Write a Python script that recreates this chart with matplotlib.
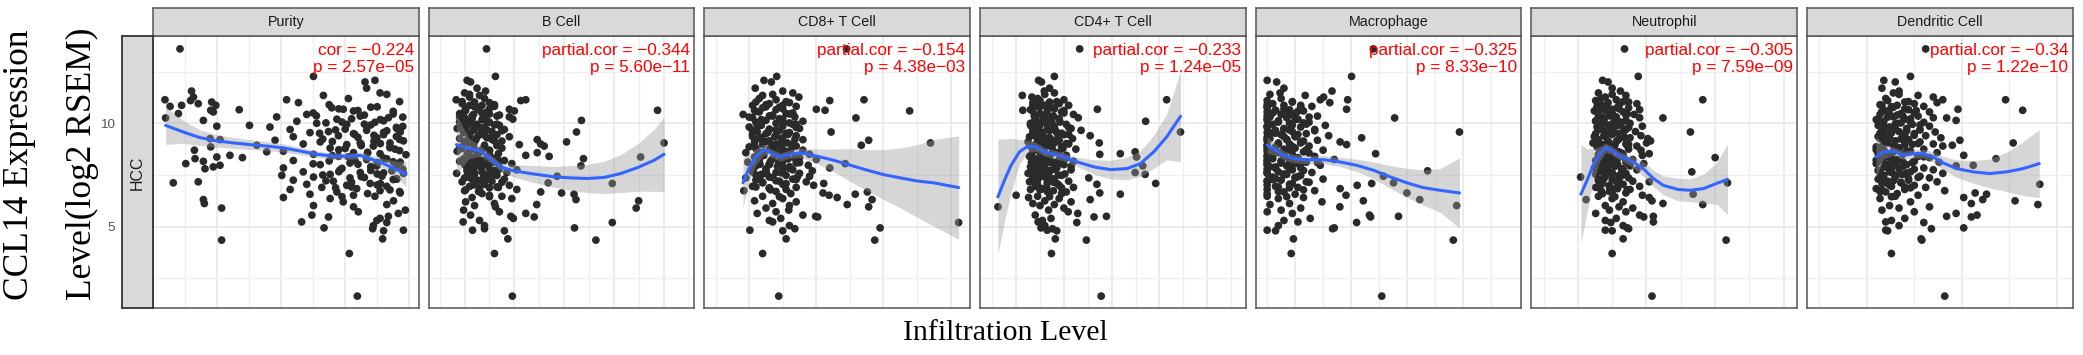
import matplotlib
matplotlib.use("Agg")
import matplotlib.pyplot as plt
import numpy as np

# ---------------- data ----------------
CELL_TYPES = ["Purity", "B Cell", "CD8+ T Cell", "CD4+ T Cell",
              "Macrophage", "Neutrophil", "Dendritic Cell"]
COR_LABELS = ["cor = \u22120.224", "partial.cor = \u22120.344", "partial.cor = \u22120.154",
              "partial.cor = \u22120.233", "partial.cor = \u22120.325", "partial.cor = \u22120.305",
              "partial.cor = \u22120.34"]
P_LABELS = ["p = 2.57e\u221205", "p = 5.60e\u221211", "p = 4.38e\u221203", "p = 1.24e\u221205",
            "p = 8.33e\u221210", "p = 7.59e\u221209", "p = 1.22e\u221210"]
CANCER = "HCC"
Y_TICKS = [5, 10]

# CCL14 expression (shared by all panels, one value per sample)
EXPRESSION = [
    13.6, 12.27, 12.08, 12.0,
    11.7, 11.56, 11.47, 11.35, 11.27, 11.14, 11.14, 11.1, 11.03, 11.0,
    10.95, 10.87, 10.87, 10.82, 10.75, 10.68, 10.66, 10.63, 10.6, 10.55,
    10.47, 10.43, 10.35, 10.31, 10.27, 10.26, 10.2, 10.14, 10.1, 10.05,
    10.0, 9.95, 9.9, 9.86, 9.82,
    9.75, 9.7, 9.66, 9.6, 9.58, 9.55, 9.5, 9.45, 9.4, 9.35,
    9.3, 9.26, 9.21, 9.18, 9.15, 9.1, 9.05, 9.05, 9.0, 8.97, 8.94, 8.9,
    8.86, 8.8, 8.75, 8.7, 8.65, 8.62, 8.58, 8.53, 8.5, 8.45,
    8.4, 8.37, 8.34, 8.29, 8.25, 8.2, 8.16, 8.12, 8.08, 8.05, 8.0, 7.97, 7.94,
    7.89, 7.84, 7.8, 7.75, 7.7, 7.65, 7.62, 7.58, 7.53, 7.48,
    7.44, 7.4, 7.36, 7.3, 7.25, 7.2, 7.17, 7.12, 7.09, 7.05, 7.0,
    6.95, 6.9, 6.84, 6.8, 6.74, 6.68, 6.63, 6.57, 6.52, 6.47,
    6.41, 6.36, 6.31, 6.25, 6.2, 6.12, 6.07, 6.02,
    5.96, 5.9, 5.8, 5.72, 5.64, 5.56, 5.5, 5.47, 5.4, 5.3, 5.23, 5.2, 5.05,
    4.94, 4.9, 4.83, 4.8, 4.41, 4.35, 3.7, 1.64,
    10.8, 10.7, 10.58, 10.5, 10.4, 10.3, 10.22, 10.12, 10.02, 9.92,
    9.8, 9.72, 9.64, 9.52, 9.42, 9.32, 9.22, 9.12, 9.02, 8.92,
    8.82, 8.72, 8.6, 8.48, 8.38, 8.28, 8.18, 8.1, 8.02, 7.92,
    7.82, 7.72, 7.6, 7.5, 7.38, 7.28, 7.15, 7.02, 6.88, 6.7,
    11.4, 11.2, 11.05, 10.9, 10.78, 10.62, 10.45, 10.36, 10.18, 10.06,
    9.96, 9.85, 9.68, 9.56, 9.46, 9.36, 9.24, 9.14, 8.98, 8.88,
    8.78, 8.68, 8.56, 8.44, 8.32, 8.22, 8.14, 8.04, 7.9, 7.78,
    7.66, 7.55, 7.42, 7.32, 7.22, 7.08, 6.92, 6.78, 6.6, 6.45,
]

PURITY = [
    0.284, 0.701, 0.893, 0.862,
    0.867, 0.320, 0.909, 0.732, 0.326, 0.237, 0.617, 0.317, 0.383, 0.654,
    0.341, 0.396, 0.289, 0.253, 0.758, 0.794, 0.469, 0.380, 0.826, 0.388,
    0.279, 0.680, 0.847, 0.586, 0.935, 0.239, 0.774, 0.357, 0.649, 0.893,
    0.711, 0.805, 0.501, 0.399, 0.565,
    0.961, 0.628, 0.867, 0.748, 0.972, 0.690, 0.826, 0.920, 0.779, 0.638,
    0.899, 0.378, 0.409, 0.581, 0.982, 0.722, 0.847, 0.940, 0.669, 0.805, 0.524, 0.888,
    0.380, 0.753, 0.956, 0.329, 0.607, 0.555, 0.826, 0.909, 0.701, 0.440,
    0.779, 0.399, 0.479, 0.331, 0.867, 0.638, 0.357, 0.972, 0.815, 0.302, 0.722, 0.409, 0.899,
    0.388, 0.607, 0.362, 0.784, 0.946, 0.669, 0.847, 0.982, 0.753, 0.602,
    0.915, 0.701, 0.815, 0.961, 0.638, 0.763, 0.341, 0.263, 0.878, 0.680, 0.805,
    0.930, 0.727, 0.836, 0.628, 0.909, 0.774, 0.972, 0.690, 0.826, 0.893,
    0.607, 0.753, 0.357, 0.951, 0.794, 0.360, 0.930, 0.701,
    0.826, 0.414, 0.988, 0.841, 0.966, 0.696, 0.935, 0.748, 0.909, 0.899, 0.664, 0.930, 0.888,
    0.734, 0.886, 0.982, 0.920, 0.917, 0.414, 0.813, 0.838,
    0.90, 0.78, 0.95, 0.70, 0.86, 0.98, 0.82, 0.92, 0.74, 0.88,
    0.96, 0.80, 0.93, 0.72, 0.89, 0.84, 0.97, 0.76, 0.91, 0.85,
    0.94, 0.78, 0.87, 0.99, 0.81, 0.93, 0.75, 0.90, 0.84, 0.96,
    0.79, 0.88, 0.92, 0.73, 0.86, 0.95, 0.82, 0.90, 0.77, 0.97,
    0.93, 0.81, 0.97, 0.75, 0.88, 0.84, 0.95, 0.71, 0.91, 0.79,
    0.86, 0.98, 0.77, 0.92, 0.83, 0.96, 0.73, 0.89, 0.85, 0.94,
    0.80, 0.97, 0.87, 0.76, 0.92, 0.83, 0.95, 0.70, 0.88, 0.98,
    0.78, 0.90, 0.85, 0.96, 0.74, 0.91, 0.82, 0.94, 0.87, 0.79,
]

B_CELL = [
    0.094, 0.112, 0.055, 0.062,
    0.075, 0.092, 0.05, 0.08, 0.06, 0.033, 0.173, 0.163, 0.07, 0.10,
    0.045, 0.085, 0.06, 0.11, 0.052, 0.14, 0.078, 0.438, 0.15, 0.095,
    0.04, 0.068, 0.115, 0.14, 0.05, 0.088, 0.147, 0.285, 0.062, 0.10,
    0.042, 0.075, 0.12, 0.055, 0.09,
    0.035, 0.13, 0.068, 0.105, 0.275, 0.048, 0.085, 0.115, 0.06, 0.14,
    0.095, 0.04, 0.196, 0.072, 0.11, 0.255, 0.451, 0.058, 0.203, 0.16, 0.09, 0.21,
    0.045, 0.125, 0.07, 0.10, 0.035, 0.082, 0.196, 0.118, 0.055, 0.173,
    0.22, 0.404, 0.095, 0.289, 0.062, 0.13, 0.04, 0.108, 0.075, 0.145, 0.05, 0.088, 0.284,
    0.12, 0.065, 0.10, 0.155, 0.055, 0.085, 0.135, 0.034, 0.07, 0.115,
    0.236, 0.09, 0.05, 0.13, 0.075, 0.105, 0.045, 0.218, 0.347, 0.09, 0.14,
    0.06, 0.118, 0.08, 0.155, 0.05, 0.203, 0.245, 0.27, 0.10, 0.125,
    0.065, 0.145, 0.274, 0.40, 0.052, 0.11, 0.195, 0.07,
    0.112, 0.395, 0.048, 0.12, 0.173, 0.062, 0.143, 0.19, 0.148, 0.08, 0.047, 0.347, 0.09,
    0.271, 0.09, 0.066, 0.13, 0.137, 0.314, 0.11, 0.146,
    0.07, 0.10, 0.05, 0.085, 0.12, 0.04, 0.065, 0.095, 0.055, 0.11,
    0.08, 0.045, 0.125, 0.06, 0.09, 0.075, 0.105, 0.05, 0.068, 0.115,
    0.04, 0.085, 0.058, 0.1, 0.072, 0.048, 0.12, 0.062, 0.092, 0.08,
    0.055, 0.11, 0.07, 0.098, 0.06, 0.085, 0.125, 0.068, 0.1, 0.078,
    0.06, 0.09, 0.045, 0.11, 0.075, 0.052, 0.1, 0.065, 0.085, 0.04,
    0.115, 0.07, 0.095, 0.05, 0.08, 0.105, 0.058, 0.125, 0.068, 0.09,
    0.044, 0.1, 0.078, 0.06, 0.112, 0.083, 0.05, 0.098, 0.07, 0.12,
    0.056, 0.088, 0.105, 0.064, 0.092, 0.075, 0.115, 0.052, 0.085, 0.1,
]

CD8_T = [
    0.195, 0.091, 0.072, 0.083,
    0.059, 0.1, 0.115, 0.07, 0.124, 0.221, 0.09, 0.17, 0.06, 0.11,
    0.08, 0.1, 0.055, 0.12, 0.07, 0.15, 0.09, 0.163, 0.289, 0.065,
    0.105, 0.041, 0.085, 0.118, 0.055, 0.209, 0.1, 0.075, 0.13, 0.06,
    0.09, 0.115, 0.068, 0.1, 0.05,
    0.125, 0.08, 0.095, 0.062, 0.172, 0.11, 0.075, 0.055, 0.12, 0.088,
    0.1, 0.065, 0.13, 0.228, 0.08, 0.058, 0.32, 0.107, 0.09, 0.07, 0.217, 0.12,
    0.05, 0.098, 0.08, 0.13, 0.063, 0.11, 0.045, 0.09, 0.14, 0.072,
    0.105, 0.058, 0.125, 0.085, 0.15, 0.065, 0.1, 0.048, 0.12, 0.193, 0.08, 0.138, 0.06,
    0.1, 0.17, 0.075, 0.115, 0.144, 0.055, 0.09, 0.125, 0.068, 0.105,
    0.14, 0.08, 0.045, 0.115, 0.06, 0.095, 0.135, 0.07, 0.161, 0.1, 0.146,
    0.055, 0.12, 0.08, 0.105, 0.042, 0.226, 0.16, 0.208, 0.169, 0.07,
    0.181, 0.1, 0.233, 0.058, 0.12, 0.085, 0.196, 0.11,
    0.228, 0.075, 0.109, 0.09, 0.062, 0.13, 0.149, 0.152, 0.097, 0.08, 0.085, 0.362, 0.11,
    0.245, 0.118, 0.051, 0.1, 0.105, 0.237, 0.07, 0.094,
    0.075, 0.1, 0.06, 0.115, 0.085, 0.05, 0.095, 0.07, 0.11, 0.065,
    0.12, 0.08, 0.055, 0.105, 0.09, 0.068, 0.118, 0.078, 0.1, 0.058,
    0.088, 0.112, 0.072, 0.095, 0.062, 0.108, 0.082, 0.125, 0.066, 0.092,
    0.11, 0.075, 0.098, 0.06, 0.085, 0.12, 0.07, 0.102, 0.08, 0.09,
    0.085, 0.065, 0.105, 0.075, 0.095, 0.058, 0.11, 0.08, 0.068, 0.1,
    0.12, 0.062, 0.09, 0.078, 0.108, 0.055, 0.098, 0.072, 0.115, 0.085,
    0.06, 0.102, 0.088, 0.07, 0.118, 0.064, 0.094, 0.08, 0.11, 0.056,
    0.1, 0.076, 0.122, 0.066, 0.09, 0.105, 0.06, 0.082, 0.112, 0.095,
]

CD4_T = [
    0.183, 0.13, 0.097, 0.103,
    0.12, 0.109, 0.13, 0.063, 0.083, 0.365, 0.15, 0.1, 0.12, 0.085,
    0.14, 0.11, 0.16, 0.095, 0.13, 0.22, 0.08, 0.064, 0.115, 0.145,
    0.1, 0.17, 0.088, 0.125, 0.18, 0.108, 0.14, 0.09, 0.321, 0.12,
    0.08, 0.155, 0.1, 0.13, 0.09,
    0.165, 0.115, 0.186, 0.085, 0.394, 0.135, 0.1, 0.15, 0.205, 0.078,
    0.12, 0.168, 0.095, 0.14, 0.11, 0.075, 0.224, 0.13, 0.16, 0.09, 0.118, 0.08,
    0.145, 0.105, 0.175, 0.085, 0.128, 0.299, 0.1, 0.268, 0.225, 0.155,
    0.078, 0.302, 0.12, 0.09, 0.14, 0.108, 0.17, 0.082, 0.125, 0.095, 0.15, 0.11, 0.315,
    0.08, 0.135, 0.1, 0.165, 0.088, 0.12, 0.299, 0.075, 0.32, 0.145,
    0.105, 0.085, 0.202, 0.13, 0.095, 0.16, 0.078, 0.115, 0.342, 0.219, 0.14,
    0.09, 0.17, 0.105, 0.08, 0.128, 0.155, 0.225, 0.268, 0.05, 0.095,
    0.076, 0.14, 0.205, 0.11, 0.165, 0.085, 0.13, 0.1,
    0.012, 0.15, 0.118, 0.159, 0.179, 0.09, 0.239, 0.213, 0.123, 0.105, 0.096, 0.177, 0.11,
    0.102, 0.126, 0.115, 0.135, 0.132, 0.197, 0.124, 0.228,
    0.1, 0.13, 0.085, 0.15, 0.115, 0.09, 0.14, 0.105, 0.125, 0.08,
    0.16, 0.095, 0.12, 0.145, 0.088, 0.11, 0.135, 0.1, 0.155, 0.09,
    0.125, 0.108, 0.14, 0.082, 0.118, 0.15, 0.095, 0.13, 0.105, 0.165,
    0.088, 0.12, 0.1, 0.138, 0.112, 0.085, 0.128, 0.095, 0.145, 0.115,
    0.11, 0.095, 0.135, 0.085, 0.12, 0.15, 0.1, 0.128, 0.09, 0.142,
    0.115, 0.082, 0.132, 0.105, 0.16, 0.092, 0.122, 0.138, 0.098, 0.112,
    0.148, 0.086, 0.125, 0.104, 0.155, 0.094, 0.118, 0.14, 0.088, 0.13,
    0.108, 0.152, 0.096, 0.124, 0.084, 0.136, 0.114, 0.1, 0.145, 0.12,
]

MACROPHAGE = [
    0.19, 0.151, 0.0, 0.017,
    0.03, 0.116, 0.023, 0.068, 0.101, 0.095, 0.144, 0.0, 0.045, 0.112,
    0.01, 0.06, 0.03, 0.08, 0.0, 0.142, 0.04, 0.015, 0.065, 0.0,
    0.05, 0.025, 0.09, 0.005, 0.035, 0.228, 0.055, 0.0, 0.02, 0.075,
    0.04, 0.01, 0.104, 0.0, 0.06,
    0.03, 0.085, 0.015, 0.045, 0.344, 0.0, 0.07, 0.025, 0.11, 0.05,
    0.169, 0.005, 0.035, 0.09, 0.0, 0.1305, 0.02, 0.06, 0.04, 0.142, 0.0, 0.075,
    0.015, 0.05, 0.03, 0.1, 0.0, 0.065, 0.02, 0.194, 0.045, 0.0,
    0.085, 0.03, 0.055, 0.01, 0.12, 0.04, 0.0, 0.07, 0.025, 0.05, 0.0, 0.095, 0.035,
    0.015, 0.06, 0.0, 0.045, 0.287, 0.02, 0.08, 0.0, 0.035, 0.06,
    0.208, 0.01, 0.05, 0.1, 0.025, 0.0, 0.07, 0.226, 0.187, 0.04, 0.161,
    0.015, 0.055, 0.1305, 0.0, 0.085, 0.03, 0.25, 0.05, 0.141, 0.0,
    0.065, 0.02, 0.273, 0.172, 0.098, 0.04, 0.005, 0.339,
    0.13, 0.06, 0.025, 0.0, 0.045, 0.183, 0.235, 0.185, 0.077, 0.03, 0.055, 0.16, 0.02,
    0.12, 0.117, 0.0, 0.015, 0.047, 0.333, 0.043, 0.205,
    0.0, 0.03, 0.055, 0.01, 0.04, 0.075, 0.0, 0.02, 0.065, 0.045,
    0.0, 0.03, 0.085, 0.015, 0.05, 0.0, 0.035, 0.06, 0.02, 0.0,
    0.045, 0.07, 0.01, 0.03, 0.0, 0.055, 0.025, 0.09, 0.0, 0.04,
    0.015, 0.065, 0.0, 0.03, 0.05, 0.01, 0.075, 0.0, 0.04, 0.02,
    0.005, 0.025, 0.045, 0.0, 0.06, 0.015, 0.035, 0.0, 0.05, 0.02,
    0.07, 0.0, 0.04, 0.01, 0.055, 0.03, 0.0, 0.065, 0.02, 0.045,
    0.0, 0.035, 0.075, 0.01, 0.05, 0.0, 0.025, 0.06, 0.005, 0.04,
    0.0, 0.03, 0.055, 0.015, 0.0, 0.045, 0.02, 0.065, 0.0, 0.035,
]

NEUTROPHIL = [
    0.109, 0.119, 0.093, 0.097,
    0.1, 0.106, 0.09, 0.11, 0.095, 0.166, 0.103, 0.088, 0.112, 0.097,
    0.118, 0.092, 0.105, 0.089, 0.112, 0.1, 0.12, 0.095, 0.087, 0.108,
    0.098, 0.116, 0.09, 0.103, 0.12, 0.137, 0.094, 0.11, 0.088, 0.101,
    0.113, 0.092, 0.105, 0.122, 0.089,
    0.098, 0.11, 0.094, 0.117, 0.157, 0.102, 0.088, 0.108, 0.121, 0.095,
    0.113, 0.126, 0.09, 0.104, 0.128, 0.097, 0.086, 0.125, 0.11, 0.093, 0.102, 0.118,
    0.089, 0.099, 0.112, 0.121, 0.092, 0.105, 0.097, 0.127, 0.09, 0.122,
    0.108, 0.095, 0.175, 0.101, 0.115, 0.088, 0.098, 0.11, 0.093, 0.123, 0.104, 0.09, 0.113,
    0.097, 0.087, 0.107, 0.118, 0.094, 0.158, 0.1, 0.11, 0.088, 0.105,
    0.095, 0.077, 0.112, 0.09, 0.102, 0.115, 0.127, 0.184, 0.093, 0.108, 0.098,
    0.12, 0.088, 0.104, 0.113, 0.092, 0.1, 0.11, 0.159, 0.122, 0.09,
    0.127, 0.1, 0.081, 0.129, 0.108, 0.137, 0.166, 0.095,
    0.105, 0.115, 0.098, 0.11, 0.088, 0.12, 0.13, 0.123, 0.103, 0.095, 0.13, 0.099, 0.108,
    0.111, 0.112, 0.095, 0.1, 0.108, 0.183, 0.1, 0.129,
    0.095, 0.105, 0.09, 0.1, 0.11, 0.093, 0.102, 0.088, 0.107, 0.097,
    0.112, 0.091, 0.1, 0.106, 0.094, 0.109, 0.089, 0.103, 0.098, 0.111,
    0.092, 0.101, 0.096, 0.108, 0.09, 0.104, 0.099, 0.113, 0.093, 0.102,
    0.088, 0.107, 0.097, 0.11, 0.094, 0.1, 0.105, 0.091, 0.103, 0.098,
    0.1, 0.092, 0.108, 0.096, 0.104, 0.089, 0.111, 0.098, 0.094, 0.106,
    0.09, 0.102, 0.109, 0.095, 0.1, 0.087, 0.105, 0.097, 0.112, 0.093,
    0.101, 0.091, 0.107, 0.099, 0.095, 0.11, 0.089, 0.103, 0.096, 0.108,
    0.092, 0.1, 0.106, 0.094, 0.09, 0.104, 0.098, 0.111, 0.093, 0.102,
]

DENDRITIC = [
    0.56, 0.48, 0.34, 0.40,
    0.33, 0.42, 0.39, 0.52, 0.6, 0.98, 0.65, 0.36, 0.45, 0.62,
    0.5, 0.33, 0.41, 0.55, 0.38, 0.73, 0.47, 1.07, 0.35, 0.58,
    0.43, 0.32, 0.52, 0.39, 0.6, 0.67, 0.45, 0.72, 0.34, 0.55,
    0.41, 0.49, 0.31, 0.58, 0.37,
    0.46, 0.53, 0.33, 0.42, 0.61, 0.38, 0.5, 0.35, 0.56, 0.44,
    0.64, 0.32, 0.47, 0.74, 0.4, 0.53, 1.02, 0.36, 0.6, 0.45, 0.7, 0.65,
    0.3, 0.42, 0.55, 0.34, 0.48, 0.39, 0.62, 0.31, 0.44, 0.76,
    0.52, 0.36, 0.58, 0.93, 0.41, 0.33, 0.5, 0.63, 0.38, 0.3, 0.46, 0.81, 0.72,
    0.35, 0.55, 0.42, 0.6, 0.32, 0.48, 0.38, 0.65, 0.44, 0.34,
    0.53, 0.4, 0.58, 0.31, 0.47, 0.36, 0.62, 0.43, 0.33, 1.16, 0.5,
    0.38, 0.56, 0.3, 0.45, 0.66, 0.35, 0.82, 0.88, 0.52, 0.4,
    0.76, 0.32, 0.86, 1.03, 0.48, 0.8, 1.15, 0.37,
    0.58, 0.42, 0.33, 0.5, 0.72, 0.83, 0.67, 0.8, 0.45, 0.38, 0.35, 0.55, 0.42,
    0.76, 0.59, 0.35, 0.36, 0.536, 0.54, 0.38, 0.66,
    0.38, 0.45, 0.33, 0.5, 0.41, 0.36, 0.48, 0.31, 0.43, 0.53,
    0.35, 0.4, 0.46, 0.32, 0.5, 0.37, 0.44, 0.34, 0.52, 0.39,
    0.42, 0.3, 0.47, 0.36, 0.55, 0.33, 0.41, 0.49, 0.35, 0.44,
    0.38, 0.31, 0.46, 0.4, 0.52, 0.34, 0.43, 0.37, 0.48, 0.32,
    0.42, 0.35, 0.47, 0.32, 0.39, 0.51, 0.37, 0.44, 0.3, 0.48,
    0.4, 0.34, 0.53, 0.38, 0.45, 0.31, 0.43, 0.36, 0.49, 0.33,
    0.41, 0.46, 0.35, 0.52, 0.38, 0.3, 0.44, 0.4, 0.34, 0.5,
    0.37, 0.43, 0.32, 0.47, 0.39, 0.36, 0.45, 0.33, 0.41, 0.38,
]

# loess fits (x, fitted value, half-width of the confidence band)
PURITY_FIT_X = [0.239, 0.294, 0.346, 0.398, 0.451, 0.503, 0.555, 0.607, 0.659, 0.711, 0.763, 0.815, 0.847, 0.878, 0.920, 0.961, 0.990]
PURITY_FIT_Y = [9.90, 9.58, 9.31, 9.15, 9.05, 8.97, 8.90, 8.81, 8.66, 8.50, 8.41, 8.41, 8.45, 8.29, 8.05, 7.76, 7.54]
PURITY_FIT_SE = [0.92, 0.55, 0.38, 0.30, 0.26, 0.24, 0.22, 0.20, 0.18, 0.16, 0.15, 0.15, 0.16, 0.18, 0.24, 0.40, 0.60]

B_CELL_FIT_X = [0.0335, 0.0583, 0.0819, 0.102, 0.122, 0.149, 0.183, 0.23, 0.263, 0.297, 0.330, 0.364, 0.398, 0.431, 0.451]
B_CELL_FIT_Y = [8.97, 8.78, 8.66, 8.29, 7.89, 7.70, 7.57, 7.41, 7.36, 7.33, 7.38, 7.57, 7.86, 8.21, 8.50]
B_CELL_FIT_SE = [1.45, 0.5, 0.25, 0.2, 0.2, 0.3, 0.4, 0.5, 0.6, 0.68, 0.78, 0.92, 1.15, 1.5, 1.8]

CD8_FIT_X = [0.0407, 0.0496, 0.0595, 0.0719, 0.0843, 0.0967, 0.109, 0.126, 0.151, 0.176, 0.201, 0.226, 0.250, 0.275, 0.300, 0.325, 0.362]
CD8_FIT_Y = [7.12, 7.81, 8.37, 8.73, 8.53, 8.37, 8.50, 8.58, 8.41, 8.21, 7.97, 7.73, 7.52, 7.36, 7.21, 7.12, 6.89]
CD8_FIT_SE = [1.2, 0.7, 0.4, 0.25, 0.2, 0.2, 0.2, 0.22, 0.35, 0.55, 0.8, 1.0, 1.2, 1.45, 1.75, 2.1, 2.5]

CD4_FIT_X = [0.0118, 0.0257, 0.0395, 0.0569, 0.0742, 0.0915, 0.109, 0.130, 0.150, 0.178, 0.213, 0.247, 0.282, 0.310, 0.338, 0.365, 0.394]
CD4_FIT_Y = [6.44, 7.25, 7.97, 8.62, 8.89, 8.86, 8.62, 8.50, 8.37, 8.13, 7.89, 7.76, 7.81, 8.05, 8.62, 9.34, 10.34]
CD4_FIT_SE = [2.8, 2.0, 1.3, 0.6, 0.3, 0.22, 0.2, 0.2, 0.2, 0.22, 0.35, 0.45, 0.55, 0.62, 0.8, 1.1, 2.2]

MACRO_FIT_X = [0.0, 0.0115, 0.0293, 0.0472, 0.071, 0.101, 0.130, 0.160, 0.190, 0.220, 0.250, 0.279, 0.309, 0.344]
MACRO_FIT_Y = [8.94, 8.78, 8.45, 8.29, 8.24, 8.24, 8.13, 7.97, 7.73, 7.41, 7.12, 6.89, 6.76, 6.63]
MACRO_FIT_SE = [0.4, 0.3, 0.22, 0.2, 0.2, 0.2, 0.22, 0.3, 0.4, 0.55, 0.7, 0.85, 1.05, 1.7]

NEUTRO_FIT_X = [0.0772, 0.0813, 0.0862, 0.091, 0.0952, 0.0995, 0.1056, 0.1129, 0.1178, 0.1239, 0.130, 0.1372, 0.148, 0.1567, 0.1664, 0.176, 0.184]
NEUTRO_FIT_Y = [6.57, 7.17, 7.97, 8.53, 8.81, 8.70, 8.41, 8.21, 8.02, 7.73, 7.33, 7.0, 6.80, 6.76, 6.84, 7.09, 7.29]
NEUTRO_FIT_SE = [2.4, 1.6, 0.8, 0.35, 0.22, 0.2, 0.2, 0.25, 0.3, 0.35, 0.4, 0.45, 0.55, 0.55, 0.7, 1.0, 1.7]

DC_FIT_X = [0.299, 0.337, 0.390, 0.442, 0.495, 0.547, 0.600, 0.652, 0.722, 0.810, 0.897, 0.985, 1.073, 1.157]
DC_FIT_Y = [8.37, 8.62, 8.66, 8.45, 8.53, 8.53, 8.37, 8.08, 7.81, 7.65, 7.57, 7.65, 7.81, 8.05]
DC_FIT_SE = [1.0, 0.35, 0.2, 0.2, 0.2, 0.2, 0.25, 0.32, 0.42, 0.55, 0.7, 0.95, 1.3, 1.65]

# ---------------- assemble ----------------
SERIES = [PURITY, B_CELL, CD8_T, CD4_T, MACROPHAGE, NEUTROPHIL, DENDRITIC]
FITS = [(PURITY_FIT_X, PURITY_FIT_Y, PURITY_FIT_SE), (B_CELL_FIT_X, B_CELL_FIT_Y, B_CELL_FIT_SE),
        (CD8_FIT_X, CD8_FIT_Y, CD8_FIT_SE), (CD4_FIT_X, CD4_FIT_Y, CD4_FIT_SE),
        (MACRO_FIT_X, MACRO_FIT_Y, MACRO_FIT_SE), (NEUTRO_FIT_X, NEUTRO_FIT_Y, NEUTRO_FIT_SE),
        (DC_FIT_X, DC_FIT_Y, DC_FIT_SE)]
for name, s in zip(CELL_TYPES, SERIES):
    if len(s) != len(EXPRESSION):
        raise ValueError(f"{name}: {len(s)} vs {len(EXPRESSION)}")

# axis layout (x ranges and grid positions per panel)
XLIMS = [(0.199, 1.0294), (-0.0226, 0.5119), (-0.017, 0.3789), (-0.0258, 0.5304),
         (-0.0207, 0.4548), (0.0411, 0.2347), (-0.064, 1.3335)]
XGRIDS = [np.arange(0.3, 1.001, 0.1), np.arange(0.0, 0.501, 0.05), np.arange(0.0, 0.351, 0.05),
          np.arange(0.0, 0.501, 0.05), np.arange(0.0, 0.401, 0.05), np.arange(0.05, 0.2251, 0.025),
          np.arange(0.0, 1.251, 0.25)]
YLIM = (1.05, 14.21)

W, H, DPI = 2083, 355, 100
fig = plt.figure(figsize=(W / DPI, H / DPI), dpi=DPI, facecolor="white")

SANS = ["Liberation Sans", "DejaVu Sans"]
SERIF = ["Liberation Serif", "DejaVu Serif"]

panel_bottom = 308.3
panel_top = 36.3
strip_top = 8.3
pw = 265.8
px0 = 152.8
pstep = 275.7

def fx(v):
    return v / W

def fy(v):
    return 1 - v / H

for i in range(7):
    left = px0 + i * pstep
    ax = fig.add_axes([fx(left), fy(panel_bottom), fx(pw), (panel_bottom - panel_top) / H])
    ax.set_facecolor("white")
    ax.set_xlim(*XLIMS[i])
    ax.set_ylim(*YLIM)
    g = XGRIDS[i]
    ax.set_xticks(g[1::2])
    ax.set_xticks(g[0::2], minor=True)
    ax.set_yticks(Y_TICKS)
    ax.set_yticks([2.5, 7.5, 12.5], minor=True)
    ax.grid(which="major", color="#EBEBEB", lw=1.3, zorder=0)
    ax.grid(which="minor", color="#EFEFEF", lw=0.9, zorder=0)
    ax.set_axisbelow(True)
    ax.tick_params(axis="x", which="both", length=0, labelbottom=False)
    ax.tick_params(axis="y", which="both", length=0)
    if i == 0:
        ax.tick_params(axis="y", which="major", pad=27, labelsize=9.7, labelcolor="#555555")
        for lab in ax.get_yticklabels():
            lab.set_family(SANS)
    else:
        ax.tick_params(axis="y", labelleft=False)
    for sp in ax.spines.values():
        sp.set_color("#555555")
        sp.set_linewidth(1.1)

    ax.scatter(SERIES[i], EXPRESSION, s=31, color="#2A2A2A", edgecolors="none", zorder=2)
    fxs, fys, fse = (np.asarray(a, dtype=float) for a in FITS[i])
    ax.fill_between(fxs, fys - fse, fys + fse, color="#999999", alpha=0.4, lw=0, zorder=3)
    ax.plot(fxs, fys, color="#3366FF", lw=2.2, zorder=4, solid_capstyle="round")

    ax.text(0.983, 0.931, COR_LABELS[i], transform=ax.transAxes, ha="right", va="baseline",
            color="#FF0000", fontsize=12.3, family=SANS, zorder=5)
    ax.text(0.983, 0.870, P_LABELS[i], transform=ax.transAxes, ha="right", va="baseline",
            color="#FF0000", fontsize=12.3, family=SANS, zorder=5)

    # facet strip
    sax = fig.add_axes([fx(left), fy(panel_top), fx(pw), (panel_top - strip_top) / H])
    sax.set_facecolor("#D9D9D9")
    sax.set_xticks([])
    sax.set_yticks([])
    for sp in sax.spines.values():
        sp.set_color("#555555")
        sp.set_linewidth(1.1)
    sax.text(0.5, 0.5, CELL_TYPES[i], ha="center", va="center", fontsize=10.3,
             color="#1A1A1A", family=SANS, transform=sax.transAxes)

# row strip (cancer type)
hax = fig.add_axes([fx(122), fy(panel_bottom), fx(30.8), (panel_bottom - panel_top) / H])
hax.set_facecolor("#D9D9D9")
hax.set_xticks([])
hax.set_yticks([])
for sp in hax.spines.values():
    sp.set_color("#333333")
    sp.set_linewidth(1.3)
hax.text(0.5, 0.5, CANCER, rotation=90, ha="center", va="center", fontsize=11.5,
         color="#1A1A1A", family=SANS, transform=hax.transAxes)

# axis titles
fig.text(fx(20), fy(165), "CCL14 Expression", rotation=90, ha="center", va="center",
         fontsize=25.5, family=SERIF, color="black")
fig.text(fx(82), fy(164), "Level(log2 RSEM)", rotation=90, ha="center", va="center",
         fontsize=25.5, family=SERIF, color="black")
fig.text(fx(1005), fy(333), "Infiltration Level", ha="center", va="center",
         fontsize=21.5, family=SERIF, color="black")

fig.savefig("out.png", dpi=DPI, facecolor="white")
